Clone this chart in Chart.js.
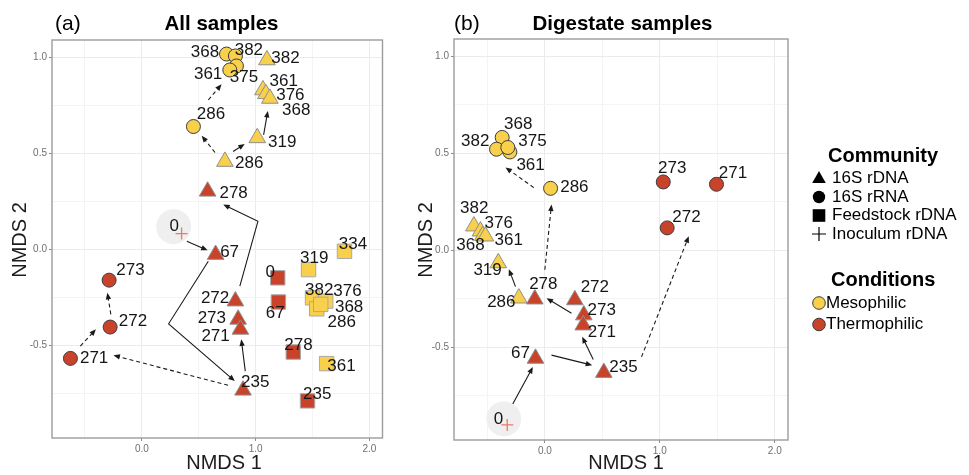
<!DOCTYPE html>
<html>
<head>
<meta charset="utf-8">
<title>NMDS ordination</title>
<script src="https://cdn.jsdelivr.net/npm/chart.js@4.4.1/dist/chart.umd.min.js"></script>
<style>
  html, body { margin: 0; padding: 0; background: #ffffff; }
  #wrap { position: relative; width: 969px; height: 475px; overflow: hidden; }
  #ca { position: absolute; left: 0; top: 0; }
  #cb { position: absolute; left: 400px; top: 0; }
</style>
</head>
<body>
<div id="wrap">
  <canvas id="ca" width="400" height="475"></canvas>
  <canvas id="cb" width="569" height="475"></canvas>
</div>
<script>
// ---------------------------------------------------------------
// Sample rows: [sampling day, NMDS 1, NMDS 2]
// ---------------------------------------------------------------

// (a) All samples
const aRdnaMeso   = [['382', 1.099, 0.986], ['361', 1.064, 0.830], ['376', 1.090, 0.810],
                     ['368', 1.125, 0.786], ['319', 1.014, 0.581], ['286', 0.730, 0.458]];
const aRdnaThermo = [['278', 0.578, 0.303], ['67', 0.648, -0.026], ['272', 0.822, -0.268],
                     ['273', 0.846, -0.363], ['271', 0.866, -0.415], ['235', 0.889, -0.732]];
const aRrnaMeso   = [['368', 0.744, 1.017], ['382', 0.822, 1.007], ['375', 0.831, 0.955],
                     ['361', 0.773, 0.934], ['286', 0.453, 0.640]];
const aRrnaThermo = [['273', -0.288, -0.159], ['272', -0.279, -0.403], ['271', -0.628, -0.566]];
const aFeedMeso   = [['334', 1.781, -0.009], ['319', 1.465, -0.104], ['382', 1.500, -0.251],
                     ['376', 1.616, -0.268], ['286', 1.537, -0.308], ['368', 1.572, -0.285],
                     ['361', 1.624, -0.593]];
const aFeedThermo = [['0', 1.194, -0.147], ['67', 1.200, -0.273], ['278', 1.331, -0.533],
                     ['235', 1.456, -0.787]];
const aInoculum   = [['0', 0.349, 0.083]];
const aHighlight  = [0.279, 0.119];

// (b) Digestate samples
const bRdnaMeso   = [['382', -0.617, 0.124], ['376', -0.560, 0.098], ['368', -0.540, 0.075],
                     ['361', -0.516, 0.072], ['319', -0.405, -0.066], ['286', -0.226, -0.248]];
const bRdnaThermo = [['278', -0.087, -0.253], ['272', 0.261, -0.257], ['273', 0.339, -0.335],
                     ['271', 0.334, -0.387], ['67', -0.081, -0.559], ['235', 0.513, -0.632]];
const bRrnaMeso   = [['368', -0.371, 0.582], ['382', -0.420, 0.521], ['361', -0.304, 0.507],
                     ['375', -0.322, 0.530], ['286', 0.050, 0.319]];
const bRrnaThermo = [['273', 1.030, 0.352], ['271', 1.493, 0.340], ['272', 1.064, 0.115]];
const bInoculum   = [['0', -0.327, -0.902]];
const bHighlight  = [-0.357, -0.871];

// Trajectories between successive samples (NMDS coordinates), solid = DNA, dashed = RNA
const aArrows = [
  { dashed: false, path: [[0.395, 0.043], [0.578, -0.004]] },
  { dashed: false, path: [[0.584, -0.061], [0.235, -0.386], [0.817, -0.684]] },
  { dashed: false, path: [[0.909, -0.632], [0.874, -0.467]] },
  { dashed: false, path: [[0.861, -0.190], [1.020, 0.147], [0.715, 0.234]] },
  { dashed: false, path: [[0.802, 0.510], [0.904, 0.549]] },
  { dashed: false, path: [[1.070, 0.597], [1.107, 0.721]] },
  { dashed: true,  path: [[0.643, 0.505], [0.526, 0.592]] },
  { dashed: true,  path: [[0.584, 0.778], [0.700, 0.860]] },
  { dashed: true,  path: [[0.758, -0.706], [-0.250, -0.550]] },
  { dashed: true,  path: [[-0.541, -0.502], [-0.404, -0.415]] },
  { dashed: true,  path: [[-0.273, -0.337], [-0.303, -0.225]] }
];
const bArrows = [
  { dashed: false, path: [[-0.318, -0.837], [-0.104, -0.603]] },
  { dashed: false, path: [[0.058, -0.542], [0.412, -0.594]] },
  { dashed: false, path: [[0.421, -0.565], [0.325, -0.447]] },
  { dashed: false, path: [[0.232, -0.326], [0.015, -0.248]] },
  { dashed: false, path: [[-0.255, -0.188], [-0.313, -0.098]] },
  { dashed: true,  path: [[0.000, -0.101], [0.058, 0.236]] },
  { dashed: true,  path: [[-0.096, 0.323], [-0.342, 0.427]] },
  { dashed: true,  path: [[0.841, -0.551], [1.252, 0.072]] }
];

// Axis ticks
const xTickValues = [-0.5, 0, 0.5, 1, 1.5, 2];
const yTickValues = [-0.75, -0.5, -0.25, 0, 0.25, 0.5, 0.75, 1];
const xMajor = [0, 1, 2];
const yMajor = [-0.5, 0, 0.5, 1];

// Legend entries
const communityLabels = ['16S rDNA', '16S rRNA', 'Feedstock rDNA', 'Inoculum rDNA'];
const conditionLabels = ['Mesophilic', 'Thermophilic'];

// ---------------------------------------------------------------
// Text placement of the day labels (pixel nudges from each point)
// ---------------------------------------------------------------
const aRdnaMesoNudge   = [[18.5, -2.7], [20.8, -10], [24.5, 0.3], [26.3, 10.5], [25, 3.7], [24.3, 1]];
const aRdnaThermoNudge = [[26, 0.6], [14, -3.3], [-20.3, -3.4], [-26.3, -1.7], [-24.8, 5.7], [12.2, -8.7]];
const aRrnaMesoNudge   = [[-21.6, -2.3], [13.5, -6.7], [7.5, 10], [-21.7, 3.3], [17.5, -13.4]];
const aRrnaThermoNudge = [[21.3, -10.7], [22.8, -7], [23.7, -1.3]];
const aFeedMesoNudge   = [[8.5, -7.7], [5.7, -12.7], [6.7, -9], [21.7, -10.7], [25, 12.4], [28.4, 1.7], [14.9, 1.4]];
const aFeedThermoNudge = [[-7.5, -6.6], [-3.2, 10], [5.1, -7.7], [9.7, -7.4]];
const aInoculumNudge   = [[-7.3, -8.3]];

const bRdnaMesoNudge   = [[0.4, -18.4], [18.3, -8.4], [-12.3, 9], [23.2, 3.3], [-10.7, 6.7], [-17.5, 3.4]];
const bRdnaThermoNudge = [[8.5, -16], [20, -13.3], [18, -6], [18.6, 5.7], [-15, -6.6], [19.7, -6.3]];
const bRrnaMesoNudge   = [[16, -14.3], [-21.3, -9.3], [20.7, 12.3], [24.7, -7.6], [23.8, -1.7]];
const bRrnaThermoNudge = [[9, -14.4], [16.5, -12.3], [19.3, -11.6]];
const bInoculumNudge   = [[-8.7, -6.6]];

// ---------------------------------------------------------------
// Styling
// ---------------------------------------------------------------
const FONT = '"Liberation Sans", Arial, Helvetica, sans-serif';
const YELLOW = '#F9D04B';
const RED = '#C9432B';
const CROSS_RED = '#EA7A66';
const TEXT = '#161616';

function pointSet(rows, nudges, style, fill, border, radius, order) {
  return {
    data: rows.map(r => ({ x: r[1], y: r[2] })),
    dayLabels: rows.map(r => r[0]),
    nudges: nudges,
    pointStyle: style,
    pointRadius: radius,
    pointHoverRadius: radius,
    pointBackgroundColor: fill,
    pointBorderColor: border,
    pointBorderWidth: style === 'cross' ? 1.3 : 1,
    showLine: false,
    order: order
  };
}

function highlightSet(pt) {
  return {
    data: [{ x: pt[0], y: pt[1] }],
    pointStyle: 'circle',
    pointRadius: 17.5,
    pointHoverRadius: 17.5,
    pointBackgroundColor: '#efefef',
    pointBorderWidth: 0,
    showLine: false,
    order: 20
  };
}

function drawArrow(ctx, pts, dashed) {
  const n = pts.length;
  const ex = pts[n - 1][0], ey = pts[n - 1][1];
  const px = pts[n - 2][0], py = pts[n - 2][1];
  const ang = Math.atan2(ey - py, ex - px);
  const c = Math.cos(ang), s = Math.sin(ang);
  const L = 6.5, W = 2.7;
  ctx.strokeStyle = '#1a1a1a';
  ctx.fillStyle = '#1a1a1a';
  ctx.lineWidth = 1.1;
  ctx.setLineDash(dashed ? [4, 3] : []);
  ctx.beginPath();
  ctx.moveTo(pts[0][0], pts[0][1]);
  for (let i = 1; i < n - 1; i++) ctx.lineTo(pts[i][0], pts[i][1]);
  ctx.lineTo(ex - c * L * 0.7, ey - s * L * 0.7);
  ctx.stroke();
  ctx.setLineDash([]);
  const bx = ex - c * L, by = ey - s * L;
  ctx.beginPath();
  ctx.moveTo(ex, ey);
  ctx.lineTo(bx - s * W, by + c * W);
  ctx.lineTo(bx + s * W, by - c * W);
  ctx.closePath();
  ctx.fill();
}

function drawLegend(ctx, ox) {
  ctx.save();
  ctx.fillStyle = '#000';
  ctx.textAlign = 'left';
  ctx.textBaseline = 'middle';
  ctx.font = 'bold 20px ' + FONT;
  ctx.fillText('Community', 828 + ox, 156);
  ctx.fillText('Conditions', 831 + ox, 280);

  const rowsY = [178.5, 197, 215.5, 234];
  const sx = 819 + ox;
  // triangle
  let y = rowsY[0];
  ctx.beginPath();
  ctx.moveTo(sx, y - 7.5); ctx.lineTo(sx + 6.8, y + 4.5); ctx.lineTo(sx - 6.8, y + 4.5); ctx.closePath();
  ctx.fill();
  // circle
  y = rowsY[1];
  ctx.beginPath(); ctx.arc(sx, y, 6.2, 0, Math.PI * 2); ctx.fill();
  // square
  y = rowsY[2];
  ctx.fillRect(sx - 6.3, y - 6.3, 12.6, 12.6);
  // plus
  y = rowsY[3];
  ctx.strokeStyle = '#000'; ctx.lineWidth = 1.2;
  ctx.beginPath();
  ctx.moveTo(sx - 7, y); ctx.lineTo(sx + 7, y);
  ctx.moveTo(sx, y - 7); ctx.lineTo(sx, y + 7);
  ctx.stroke();

  ctx.font = '17px ' + FONT;
  communityLabels.forEach((t, i) => ctx.fillText(t, 832 + ox, rowsY[i]));

  const condY = [303, 324.5];
  [YELLOW, RED].forEach((col, i) => {
    ctx.beginPath();
    ctx.arc(sx, condY[i], 6.3, 0, Math.PI * 2);
    ctx.fillStyle = col; ctx.fill();
    ctx.strokeStyle = '#3a3a3a'; ctx.lineWidth = 1; ctx.stroke();
  });
  ctx.fillStyle = '#000';
  conditionLabels.forEach((t, i) => ctx.fillText(t, 826 + ox, condY[i]));
  ctx.restore();
}

const panelPlugin = {
  id: 'panel',
  beforeDatasetsDraw(chart, args, opts) {
    const { ctx, chartArea, scales } = chart;
    ctx.save();
    ctx.beginPath();
    ctx.rect(chartArea.left, chartArea.top, chartArea.right - chartArea.left, chartArea.bottom - chartArea.top);
    ctx.clip();
    opts.arrows.forEach(a => {
      const pts = a.path.map(p => [scales.x.getPixelForValue(p[0]), scales.y.getPixelForValue(p[1])]);
      drawArrow(ctx, pts, a.dashed);
    });
    ctx.restore();
  },
  afterDatasetsDraw(chart) {
    const { ctx } = chart;
    ctx.save();
    ctx.font = '17px ' + FONT;
    ctx.fillStyle = TEXT;
    ctx.textAlign = 'center';
    ctx.textBaseline = 'middle';
    chart.data.datasets.forEach((ds, di) => {
      if (!ds.dayLabels) return;
      const meta = chart.getDatasetMeta(di);
      meta.data.forEach((el, i) => {
        const n = ds.nudges[i];
        ctx.fillText(ds.dayLabels[i], el.x + n[0], el.y + n[1] + 1);
      });
    });
    ctx.restore();
  },
  afterDraw(chart, args, opts) {
    const { ctx, chartArea } = chart;
    const ox = opts.offsetX;
    ctx.save();
    // panel border
    ctx.strokeStyle = '#9c9c9c';
    ctx.lineWidth = 1.4;
    ctx.strokeRect(chartArea.left, chartArea.top, chartArea.right - chartArea.left, chartArea.bottom - chartArea.top);
    // panel tag and title
    ctx.fillStyle = '#000';
    ctx.textBaseline = 'alphabetic';
    ctx.textAlign = 'left';
    ctx.font = '21px ' + FONT;
    ctx.fillText(opts.tag, opts.tagX + ox, 30);
    ctx.textAlign = 'center';
    ctx.font = 'bold 20.5px ' + FONT;
    ctx.fillText(opts.title, opts.titleX + ox, 30);
    // axis titles
    ctx.fillStyle = '#1c1c1c';
    ctx.font = '20px ' + FONT;
    ctx.textBaseline = 'middle';
    ctx.fillText('NMDS 1', opts.xTitleX + ox, 463);
    ctx.translate(opts.yTitleX + ox, 240);
    ctx.rotate(-Math.PI / 2);
    ctx.fillText('NMDS 2', 0, 0);
    ctx.restore();
    if (opts.legend) drawLegend(ctx, ox);
  }
};

function isMajor(v, list) { return list.some(m => Math.abs(m - v) < 1e-9); }

function makeChart(canvasId, datasets, arrows, cfg) {
  const tickFont = { family: FONT, size: 10 };
  return new Chart(document.getElementById(canvasId), {
    type: 'scatter',
    data: { datasets: datasets },
    plugins: [panelPlugin],
    options: {
      responsive: false,
      animation: false,
      events: [],
      layout: { padding: { left: 0, top: cfg.top, right: cfg.right, bottom: 0 } },
      plugins: {
        legend: { display: false },
        tooltip: { enabled: false },
        panel: {
          arrows: arrows, offsetX: cfg.offsetX, tag: cfg.tag, tagX: cfg.tagX,
          title: cfg.title, titleX: cfg.titleX, xTitleX: cfg.xTitleX, yTitleX: cfg.yTitleX,
          legend: cfg.legend
        }
      },
      scales: {
        x: {
          type: 'linear', min: -0.79, max: 2.115,
          afterBuildTicks: s => { s.ticks = xTickValues.map(v => ({ value: v })); },
          afterFit: s => { s.height = cfg.xAxisH; },
          ticks: {
            autoSkip: false, maxRotation: 0, padding: 2, color: '#707070', font: tickFont,
            callback: v => isMajor(v, xMajor) ? v.toFixed(1) : ''
          },
          grid: {
            lineWidth: 1, tickLength: 3,
            color: c => isMajor(c.tick.value, xMajor) ? '#ebebeb' : '#f4f4f4',
            tickColor: c => isMajor(c.tick.value, xMajor) ? '#8a8a8a' : 'rgba(0,0,0,0)'
          },
          border: { display: false }
        },
        y: {
          type: 'linear', min: -0.98, max: 1.09,
          afterBuildTicks: s => { s.ticks = yTickValues.map(v => ({ value: v })); },
          afterFit: s => { s.width = cfg.yAxisW; },
          ticks: {
            autoSkip: false, padding: 2, color: '#707070', font: tickFont,
            callback: v => isMajor(v, yMajor) ? v.toFixed(1) : ''
          },
          grid: {
            lineWidth: 1, tickLength: 3,
            color: c => isMajor(c.tick.value, yMajor) ? '#ebebeb' : '#f4f4f4',
            tickColor: c => isMajor(c.tick.value, yMajor) ? '#8a8a8a' : 'rgba(0,0,0,0)'
          },
          border: { display: false }
        }
      }
    }
  });
}

const TRI_BORDER = '#8f8f8f';
const SQ_BORDER = '#a8a8a8';
const CIRC_BORDER = '#3c3c3c';

makeChart('ca', [
  pointSet(aInoculum, aInoculumNudge, 'cross', CROSS_RED, CROSS_RED, 6, 1),
  pointSet(aRrnaMeso, aRrnaMesoNudge, 'circle', YELLOW, CIRC_BORDER, 7, 2),
  pointSet(aRrnaThermo, aRrnaThermoNudge, 'circle', RED, CIRC_BORDER, 7, 3),
  pointSet(aRdnaMeso, aRdnaMesoNudge, 'triangle', YELLOW, TRI_BORDER, 9.6, 4),
  pointSet(aRdnaThermo, aRdnaThermoNudge, 'triangle', RED, TRI_BORDER, 9.6, 5),
  pointSet(aFeedMeso, aFeedMesoNudge, 'rect', YELLOW, SQ_BORDER, 10.2, 6),
  pointSet(aFeedThermo, aFeedThermoNudge, 'rect', RED, SQ_BORDER, 10.2, 7),
  highlightSet(aHighlight)
], aArrows, {
  top: 40, right: 15, xAxisH: 37, yAxisW: 52, offsetX: 0,
  tag: '(a)', tagX: 55, title: 'All samples', titleX: 221.5,
  xTitleX: 224, yTitleX: 20, legend: false
});

makeChart('cb', [
  pointSet(bInoculum, bInoculumNudge, 'cross', CROSS_RED, CROSS_RED, 6, 1),
  pointSet(bRrnaMeso, bRrnaMesoNudge, 'circle', YELLOW, CIRC_BORDER, 7, 2),
  pointSet(bRrnaThermo, bRrnaThermoNudge, 'circle', RED, CIRC_BORDER, 7, 3),
  pointSet(bRdnaMeso, bRdnaMesoNudge, 'triangle', YELLOW, TRI_BORDER, 9.6, 4),
  pointSet(bRdnaThermo, bRdnaThermoNudge, 'triangle', RED, TRI_BORDER, 9.6, 5),
  highlightSet(bHighlight)
], bArrows, {
  top: 39, right: 181, xAxisH: 35, yAxisW: 54, offsetX: -400,
  tag: '(b)', tagX: 454, title: 'Digestate samples', titleX: 622.5,
  xTitleX: 626, yTitleX: 426, legend: true
});
</script>
</body>
</html>
